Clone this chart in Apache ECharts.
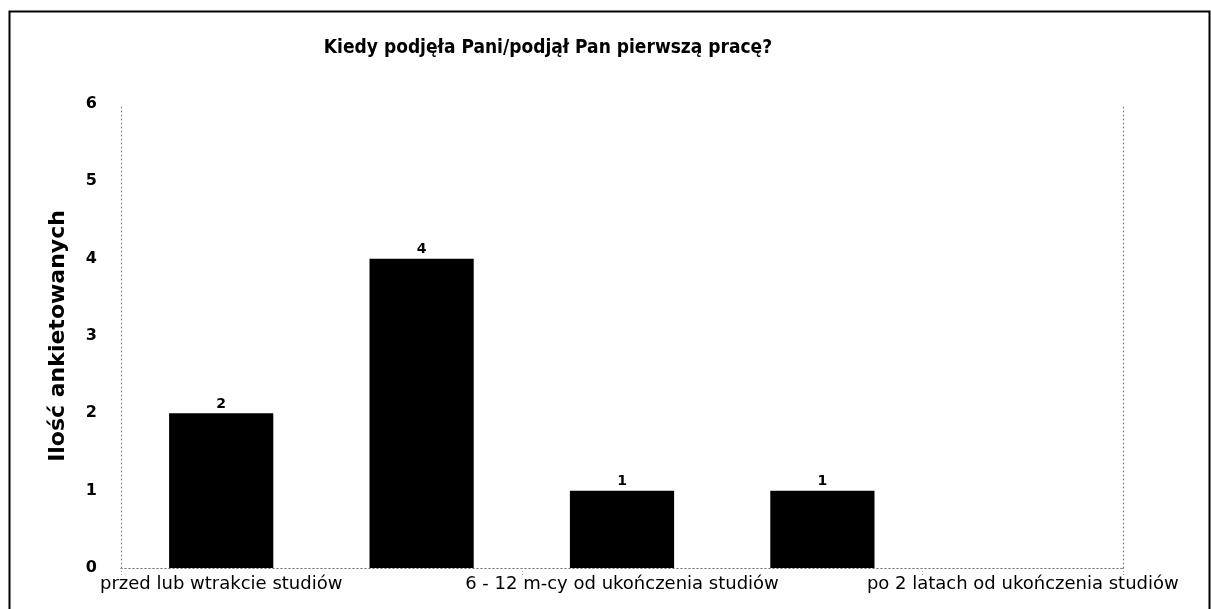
<!DOCTYPE html>
<html><head><meta charset="utf-8">
<script src="https://cdn.jsdelivr.net/npm/echarts@6/dist/echarts.min.js"></script>
<style>html,body{margin:0;padding:0;background:#fff}#c{width:1211px;height:609px}</style>
</head><body><div id="c"></div>
<script>
const categories = [
  "przed lub wtrakcie studiów",
  "do 6 m-cy od ukończenia studiów",
  "6 - 12 m-cy od ukończenia studiów",
  "1 - 2 lata od ukończenia studiów",
  "po 2 latach od ukończenia studiów"
];
const values = [2, 4, 1, 1, null];
const yTicks = [0, 1, 2, 3, 4, 5, 6];

const chart = echarts.init(document.getElementById('c'), null, {renderer: 'canvas'});
const dotted = {color: '#777', width: 1, type: [1, 3]};
chart.setOption({
  animation: false,
  backgroundColor: '#fff',
  title: {
    text: 'Kiedy podjęła Pani/podjął Pan pierwszą pracę?',
    left: 543, top: 34, textAlign: 'center',
    textStyle: {fontFamily: 'DejaVu Sans Condensed, Liberation Sans Narrow, Liberation Sans', fontWeight: 'bold', fontSize: 19, color: '#000'}
  },
  graphic: [{
    type: 'rect', left: 7, top: 9,
    shape: {width: 1200, height: 620},
    style: {fill: null, stroke: '#000', lineWidth: 2}
  }],
  grid: {left: 121, right: 88, top: 104, bottom: 41},
  xAxis: [{
    type: 'category', data: categories, position: 'bottom',
    axisLine: {lineStyle: dotted},
    axisTick: {show: true, length: 7, lineStyle: {color: '#999', type: [1, 2]}},
    axisLabel: {interval: 1, color: '#000', fontFamily: 'DejaVu Sans', fontSize: 18, margin: 7}
  }, {
    type: 'category', data: categories, position: 'top',
    axisLine: {show: true, lineStyle: dotted}, axisTick: {show: false}, axisLabel: {show: false}
  }],
  yAxis: [{
    type: 'value', min: 0, max: 6, interval: 1,
    name: 'Ilość ankietowanych', nameLocation: 'middle', nameGap: 52, nameRotate: 90,
    nameTextStyle: {fontFamily: 'DejaVu Sans', fontWeight: 'bold', fontSize: 22, color: '#000'},
    axisLine: {show: true, lineStyle: dotted}, axisTick: {show: false},
    splitLine: {show: false},
    axisLabel: {color: '#000', fontFamily: 'DejaVu Sans', fontWeight: 'bold', fontSize: 16, margin: 24,
      formatter: v => yTicks.includes(v) ? String(v) : ''}
  }, {
    type: 'value', min: 0, max: 6, interval: 1, position: 'right',
    axisLine: {show: true, lineStyle: dotted}, axisTick: {show: false},
    splitLine: {show: false}, axisLabel: {show: false}
  }],
  series: [{
    type: 'bar', data: values, barWidth: '52%',
    itemStyle: {color: '#000'},
    label: {show: true, position: 'top', distance: 2, color: '#000',
      fontFamily: 'DejaVu Sans', fontWeight: 'bold', fontSize: 14}
  }]
});
</script></body></html>
